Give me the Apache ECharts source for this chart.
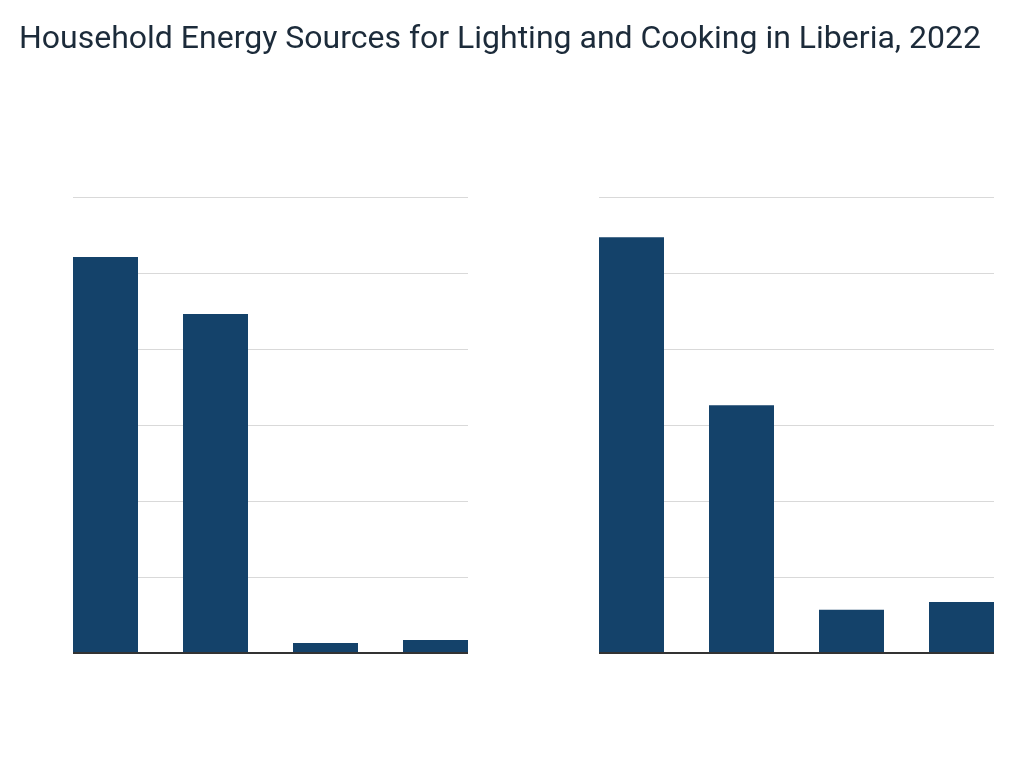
<!DOCTYPE html>
<html style="height: 100%">
<head>
	<meta charset="UTF-8">
	<title>Household Energy Sources - Liberia 2022</title>
	<script src="https://cdn.jsdelivr.net/npm/echarts@6/dist/echarts.min.js"></script>
</head>
<body style="height:100%; margin:0; background:#ffffff">
<div id="main" style="width:1024px; height:768px;"></div>
<script type="text/javascript">
	// data (percent of households)
	var lightingSources = ['Battery / torch', 'Solar', 'Kerosene', 'Other'];
	var lightingShare = [52.1, 44.6, 1.3, 1.7];
	var cookingSources = ['Charcoal', 'Firewood', 'Gas', 'Other'];
	var cookingShare = [54.7, 32.6, 5.7, 6.7];
	var yTicks = [0, 10, 20, 30, 40, 50, 60];

	var barColor = '#14426a';
	var myChart = echarts.init(document.getElementById('main'));

	// bars sit flush with both ends of the plot, so x is a value axis of category indexes
	function pairs(vals) {
		return vals.map(function (v, i) { return [i, v]; });
	}
	function xAxisFor(idx) {
		return {
			type: 'value', gridIndex: idx,
			min: -32.5 / 110, max: 3 + 32.5 / 110,
			axisLine: { show: false }, axisTick: { show: false },
			axisLabel: { show: false }, splitLine: { show: false }
		};
	}
	function yAxisFor(idx) {
		return {
			type: 'value', gridIndex: idx,
			min: yTicks[0], max: yTicks[yTicks.length - 1], interval: 10,
			axisLine: { show: false }, axisTick: { show: false },
			axisLabel: { show: false },
			splitLine: { lineStyle: { color: '#d9d9d9', width: 1 } }
		};
	}
	function barsFor(idx, name, vals) {
		return {
			name: name, type: 'bar',
			xAxisIndex: idx, yAxisIndex: idx,
			barWidth: 65,
			data: pairs(vals),
			itemStyle: { color: barColor },
			markLine: {
				silent: true, symbol: 'none', label: { show: false },
				lineStyle: { color: '#333333', width: 2, type: 'solid' },
				data: [{ yAxis: 0 }]
			}
		};
	}

	var option = {
		animation: false,
		title: {
			text: 'Household Energy Sources for Lighting and Cooking in Liberia, 2022',
			left: 14, top: 19,
			textStyle: { fontFamily: 'Roboto', fontSize: 32, fontWeight: 'normal', color: '#1c2b3a' }
		},
		grid: [
			{ left: 73, top: 197, width: 395, height: 456 },
			{ left: 599, top: 197, width: 395, height: 456 }
		],
		xAxis: [xAxisFor(0), xAxisFor(1)],
		yAxis: [yAxisFor(0), yAxisFor(1)],
		series: [
			barsFor(0, 'Lighting', lightingShare),
			barsFor(1, 'Cooking', cookingShare)
		]
	};
	myChart.setOption(option);
</script>
</body>
</html>
